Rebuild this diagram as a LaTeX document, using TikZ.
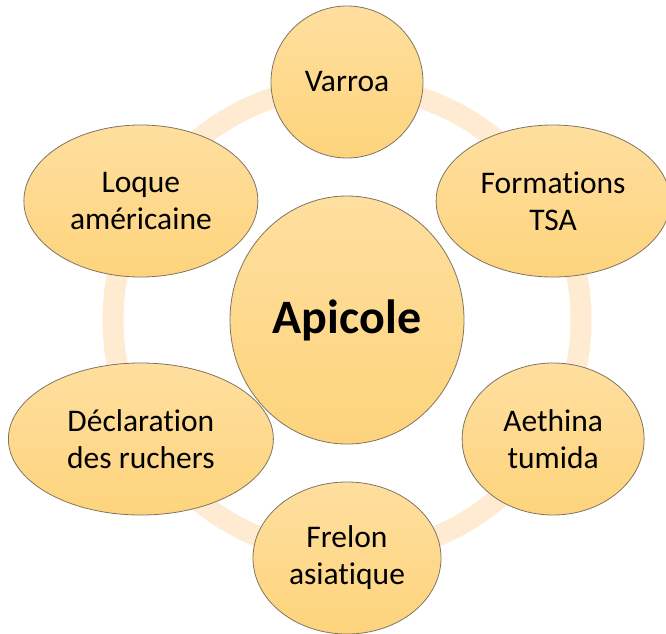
\documentclass[tikz,border=0pt]{standalone}
\usepackage{fontspec}
\setmainfont{Carlito}[Ligatures={NoCommon,NoRequired,NoContextual},
  Contextuals={NoAlternate}]
\usetikzlibrary{shapes.geometric}

\definecolor{gold top}{HTML}{FFDF9F}
\definecolor{gold bottom}{HTML}{FDD47C}
\definecolor{gold line}{HTML}{7F7461}
\definecolor{ring peach}{HTML}{FEEBD2}

\begin{document}
\begin{tikzpicture}[
        x=1pt, y=1pt,
        bubble/.style={ellipse, draw=gold line, line width=0.8pt,
          top color=gold top, bottom color=gold bottom,
          inner sep=0pt, align=center,
          font=\fontsize{31.5}{37}\selectfont},
        ring/.style={draw=ring peach, line width=21pt}
      ]
      \useasboundingbox (-347,-313) rectangle (319,320);
      \coordinate (hub) at (0,0);
      \draw[ring] (hub) circle (234);
      \node[bubble, minimum width=234, minimum height=248,
        font=\fontsize{48}{56}\selectfont\bfseries] (apicole) at (hub) {Apicole};
      \node[bubble, minimum width=152, minimum height=152] (varroa)
        at (90:238) {Varroa};
      \node[bubble, minimum width=234, minimum height=152] (tsa)
        at (30:238) {Formations\\TSA};
      \node[bubble, minimum width=182, minimum height=152] (aethina)
        at (-30:238) {Aethina\\tumida};
      \node[bubble, minimum width=188, minimum height=152] (frelon)
        at (-90:238) {Frelon\\asiatique};
      \node[bubble, minimum width=265, minimum height=152] (declaration)
        at (210:238) {Déclaration\\des ruchers};
      \node[bubble, minimum width=234, minimum height=152] (loque)
        at (150:238) {Loque\\américaine};
\end{tikzpicture}
\end{document}
